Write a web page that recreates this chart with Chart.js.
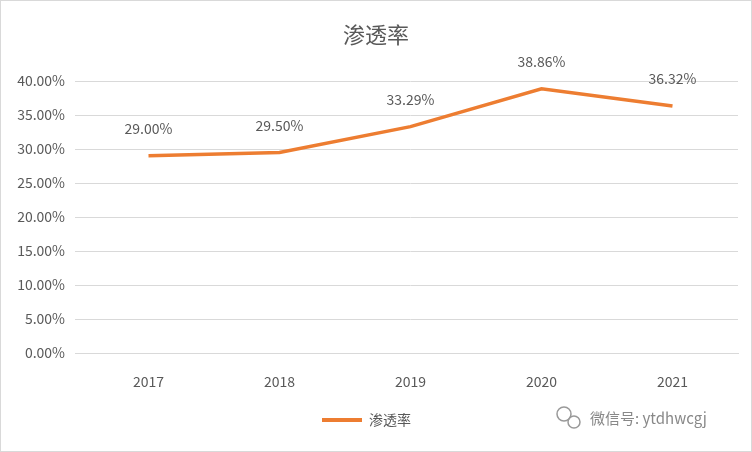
<!DOCTYPE html><html><head><meta charset="utf-8">
<script src="https://cdn.jsdelivr.net/npm/chart.js@4"></script>
<style>html,body{margin:0;padding:0;background:#fff}#w{width:752px;height:452px;position:relative}</style>
</head><body><div id="w"><canvas id="c"></canvas></div>
<script>
const categories=['2017','2018','2019','2020','2021'];
const values=[0.29,0.295,0.3329,0.3886,0.3632];
const labels=['29.00%','29.50%','33.29%','38.86%','36.32%'];
const seriesName='渗透率';
const F='"Noto Sans CJK SC","Liberation Sans",sans-serif';
const deco={id:'deco',afterDraw(ch){const c=ch.ctx;c.save();
c.strokeStyle='#d9d9d9';c.lineWidth=1;c.strokeRect(0.5,0.5,751,451);
c.fillStyle='#595959';c.font='22px '+F;c.textAlign='center';c.textBaseline='middle';c.fillText(seriesName,376,35);
const m=ch.getDatasetMeta(0);c.font='14px '+F;
m.data.forEach((p,i)=>c.fillText(labels[i],p.x,p.y-27));
c.strokeStyle='#ED7D31';c.lineWidth=4;c.beginPath();c.moveTo(322,420);c.lineTo(362,420);c.stroke();
c.textAlign='left';c.fillText(seriesName,369,420);
c.fillStyle='#888';c.font='15px '+F;c.fillText('微信号: ytdhwcgj',590,418);
c.strokeStyle='#999';c.lineWidth=1.5;c.beginPath();c.arc(564,414,7,0,Math.PI*2);c.stroke();c.beginPath();c.arc(574,422,6,0,Math.PI*2);c.stroke();
c.restore();}};
new Chart(document.getElementById('c'),{type:'line',
data:{labels:categories,datasets:[{label:seriesName,data:values,borderColor:'#ED7D31',borderWidth:3.5,pointRadius:0,tension:0}]},
options:{responsive:true,maintainAspectRatio:false,animation:false,devicePixelRatio:1,
layout:{padding:{top:81,right:14,left:0,bottom:0}},
plugins:{legend:{display:false},tooltip:{enabled:false}},
scales:{
x:{offset:true,grid:{display:false},border:{color:'#d9d9d9'},ticks:{color:'#595959',font:{size:14,family:F},padding:12},afterFit(s){s.height=99;}},
y:{min:0,max:0.4,ticks:{stepSize:0.05,color:'#595959',font:{size:14,family:F},padding:10,callback:v=>(v*100).toFixed(2)+'%'},grid:{color:'#d9d9d9'},border:{display:false},afterFit(s){s.width=83;}}}},
plugins:[deco]});
</script></body></html>
